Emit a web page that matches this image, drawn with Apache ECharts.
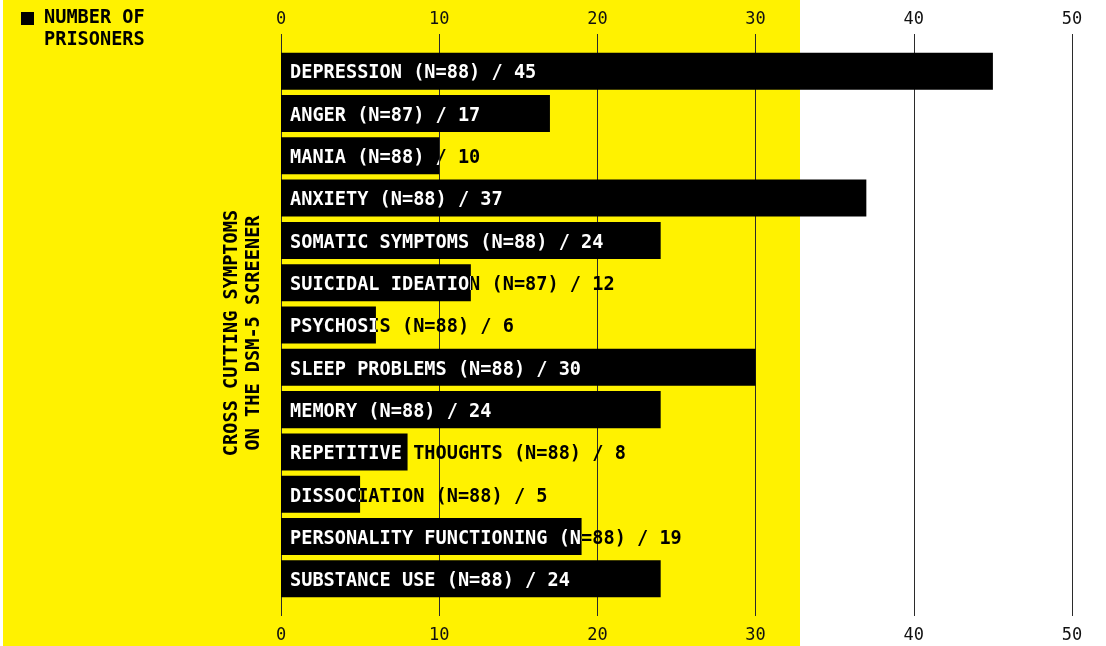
<!DOCTYPE html>
<html>
<head>
<meta charset="utf-8">
<script src="https://cdn.jsdelivr.net/npm/echarts@6/dist/echarts.min.js"></script>
<style>
  html, body { margin: 0; padding: 0; background: #fff; }
  #chart { width: 1106px; height: 646px; }
</style>
</head>
<body>
<div id="chart"></div>
<script>
const symptoms = [
  'DEPRESSION', 'ANGER', 'MANIA', 'ANXIETY', 'SOMATIC SYMPTOMS',
  'SUICIDAL IDEATION', 'PSYCHOSIS', 'SLEEP PROBLEMS', 'MEMORY',
  'REPETITIVE THOUGHTS', 'DISSOCIATION', 'PERSONALITY FUNCTIONING', 'SUBSTANCE USE'
];
const sampleSizes = [88, 87, 88, 88, 88, 87, 88, 88, 88, 88, 88, 88, 88];
const prisoners = [45, 17, 10, 37, 24, 12, 6, 30, 24, 8, 5, 19, 24];
const axisMin = 0;
const axisMax = 50;
const axisStep = 10;

const categories = symptoms.map((s, i) => s + ' (N=' + sampleSizes[i] + ')');
const MONO = '"DejaVu Sans Mono", "Liberation Mono", monospace';
const YELLOW = '#fff200';
const LINE = '#2b2b2b';

const chart = echarts.init(document.getElementById('chart'));

// bar + label; the label is drawn twice so it turns white only over the bar
function renderBar(params, api) {
  const value = api.value(0);
  const cat = api.value(1);
  const start = api.coord([0, cat]);
  const end = api.coord([value, cat]);
  const h = api.size([0, 1])[1] * 0.875;
  const box = { x: start[0], y: start[1] - h / 2, width: end[0] - start[0], height: h };
  const text = categories[cat] + ' / ' + value;
  const textStyle = (fill) => ({
    text: text,
    x: start[0] + 9,
    y: start[1] + 2.5,
    fill: fill,
    font: 'bold 18.6px ' + MONO,
    verticalAlign: 'middle',
    align: 'left'
  });
  return {
    type: 'group',
    children: [
      { type: 'rect', shape: box, style: { fill: '#000' } },
      { type: 'text', style: textStyle('#000') },
      {
        type: 'group',
        clipPath: { type: 'rect', shape: box },
        children: [{ type: 'text', style: textStyle('#fff') }]
      }
    ]
  };
}

const xAxisBase = {
  type: 'value',
  min: axisMin,
  max: axisMax,
  interval: axisStep,
  axisLine: { show: false },
  axisTick: { show: true, length: 16, lineStyle: { color: LINE, width: 1 } },
  axisLabel: { color: '#111', fontFamily: MONO, fontSize: 17 }
};

chart.setOption({
  animation: false,
  backgroundColor: '#fff',
  graphic: [{
    type: 'rect',
    z: -10,
    silent: true,
    shape: { x: 3, y: 0, width: 797, height: 646 },
    style: { fill: YELLOW }
  }],
  legend: {
    left: 21,
    top: -14.5,
    padding: 0,
    icon: 'rect',
    itemWidth: 13,
    itemHeight: 13,
    selectedMode: false,
    formatter: () => '\nNUMBER OF\nPRISONERS',
    textStyle: {
      color: '#000',
      fontFamily: MONO,
      fontWeight: 'bold',
      fontSize: 18.6,
      lineHeight: 22,
      padding: [0, 0, 0, 5]
    },
    data: ['Number of prisoners']
  },
  grid: { left: 281, right: 34, top: 50, bottom: 46, containLabel: false },
  xAxis: [
    Object.assign({}, xAxisBase, {
      position: 'top',
      splitLine: { show: true, lineStyle: { color: LINE, width: 1 } },
      axisLabel: Object.assign({}, xAxisBase.axisLabel, { margin: 22 })
    }),
    Object.assign({}, xAxisBase, {
      position: 'bottom',
      splitLine: { show: false },
      axisLabel: Object.assign({}, xAxisBase.axisLabel, { margin: 27 })
    })
  ],
  yAxis: {
    type: 'category',
    inverse: true,
    data: categories,
    axisLine: { show: false },
    axisTick: { show: false },
    axisLabel: { show: false },
    name: 'CROSS CUTTING SYMPTOMS\nON THE DSM-5 SCREENER',
    nameLocation: 'middle',
    nameRotate: 90,
    nameGap: 16,
    nameTextStyle: {
      color: '#000',
      fontFamily: MONO,
      fontWeight: 'bold',
      fontSize: 18.6,
      lineHeight: 22,
      padding: [0, 16, 0, 0]
    }
  },
  series: [{
    name: 'Number of prisoners',
    type: 'custom',
    xAxisIndex: 0,
    itemStyle: { color: '#000' },
    encode: { x: 0, y: 1 },
    data: prisoners.map((v, i) => [v, i]),
    renderItem: renderBar
  }]
});
</script>
</body>
</html>
